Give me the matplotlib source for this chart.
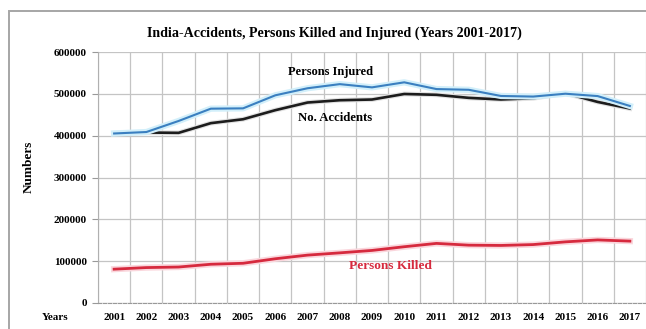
import numpy as np
import matplotlib.pyplot as plt
import matplotlib.patheffects as pe
from matplotlib.patches import Rectangle

plt.rcParams['font.family'] = ['Liberation Serif', 'DejaVu Serif']
plt.rcParams['font.weight'] = 'bold'

years = [str(y) for y in range(2001, 2018)]
accidents = [405637, 407497, 406726, 429910, 439255, 460920, 479216, 484704,
             486384, 499628, 497686, 490383, 486476, 489400, 501423, 480652, 464910]
killed = [80888, 84674, 85998, 92618, 94968, 105749, 114444, 119860,
          125660, 134513, 142485, 138258, 137572, 139671, 146133, 150785, 147913]
injured = [405216, 408711, 435122, 464521, 465282, 496481, 513340, 523193,
           515458, 527512, 511394, 509667, 494893, 493474, 500279, 494624, 470975]

fig = plt.figure(figsize=(6.46, 3.29), dpi=100)
ax = fig.add_axes([98 / 646, 1 - 303 / 329, 548 / 646, 251 / 329])

# outer chart border (right and bottom edges fall outside the image)
fig.patches.append(Rectangle((9 / 646, -0.05), 1.2, 1 - 11 / 329 + 0.05,
                             transform=fig.transFigure, fill=False,
                             edgecolor='#a6a6a6', linewidth=1.4))

x = np.arange(len(years))


def glow(color, width):
    return [pe.Stroke(linewidth=width, foreground=color), pe.Normal()]


ax.plot(x, injured, color='#3a7fc0', linewidth=1.5, zorder=4,
        path_effects=glow('#d2effa', 4.5))
ax.plot(x, accidents, color='#1c1c1c', linewidth=1.9, zorder=3,
        path_effects=glow('#e2e2e2', 3.5))
ax.plot(x, killed, color='#d62a3e', linewidth=2.0, zorder=3,
        path_effects=glow('#fad6dc', 4.5))

ax.set_xlim(-0.5, len(years) - 0.5)
ax.set_ylim(0, 600000)
ax.set_yticks(np.arange(0, 600001, 100000))
ax.set_yticklabels([str(v) for v in range(0, 600001, 100000)])
ax.set_xticks(x)
ax.set_xticklabels(years)
ax.set_xticks(np.arange(-0.5, len(years)), minor=True)

ax.tick_params(axis='y', length=4, width=0.8, color='#999999', pad=4, labelsize=8)
ax.tick_params(axis='x', which='major', length=0, pad=7, labelsize=8)
ax.tick_params(axis='x', which='minor', length=0)

ax.grid(axis='y', which='major', color='#c4c4c4', linewidth=0.9)
ax.grid(axis='x', which='minor', color='#c4c4c4', linewidth=0.9)
ax.set_axisbelow(True)

for s in ['top', 'right']:
    ax.spines[s].set_visible(False)
ax.spines['left'].set_color('#b0b0b0')
ax.spines['bottom'].set_color('#999999')
ax.spines['bottom'].set_linestyle((0, (3, 1.5)))

ax.text(6.7, 552000, 'Persons Injured', ha='center', va='center', fontsize=9)
ax.text(6.85, 442000, 'No. Accidents', ha='center', va='center', fontsize=9.2)
ax.text(8.56, 88500, 'Persons Killed', ha='center', va='center', fontsize=9.6,
        color='#d62a3e')

fig.text(334 / 646, 1 - 33 / 329, 'India-Accidents, Persons Killed and Injured (Years 2001-2017)',
         ha='center', va='center', fontsize=10.1)
fig.text(29 / 646, 1 - 167 / 329, 'Numbers', rotation=90, ha='center', va='center', fontsize=9.5)
fig.text(55 / 646, 1 - 317 / 329, 'Years', ha='center', va='center', fontsize=8)

fig.savefig('out.png', dpi=100)
